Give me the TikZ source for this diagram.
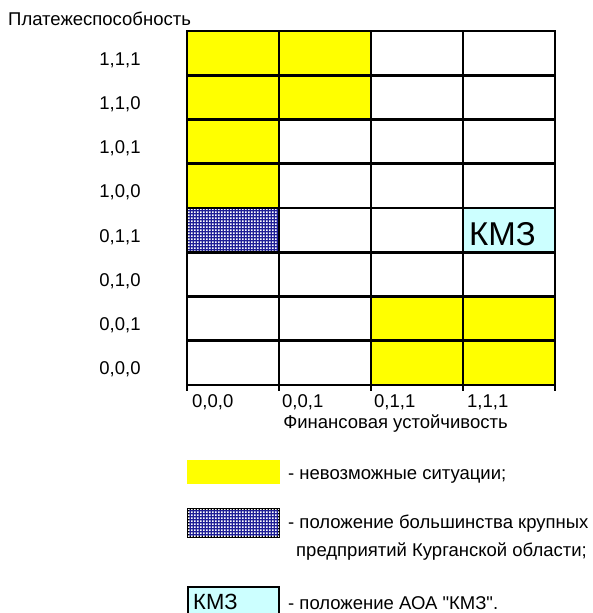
\documentclass[tikz,border=0pt]{standalone}
\usepackage{fontspec}
\newfontfamily\arialfont{Liberation Sans}
\usetikzlibrary{patterns}

\definecolor{impossible}{RGB}{255,255,0}
\definecolor{kmzcyan}{RGB}{204,255,255}
\definecolor{navydots}{RGB}{30,30,150}

\pgfdeclarepatternformonly{checkdots}{\pgfqpoint{0pt}{0pt}}{\pgfqpoint{3.2pt}{3.2pt}}{\pgfqpoint{3.2pt}{3.2pt}}
{
	\pgfpathrectangle{\pgfqpoint{0pt}{0pt}}{\pgfqpoint{2pt}{2pt}}
	\pgfusepath{fill}
}

\tikzset{
	lbl/.style={font=\arialfont\fontsize{18.5}{22}\selectfont, inner sep=0pt},
	kmz/.style={font=\arialfont\fontsize{#1}{#1}\selectfont, inner sep=0pt, anchor=base west},
	gridline/.style={line width=2.6pt, line cap=rect},
	dotted cell/.style={fill=navydots, postaction={pattern=checkdots, pattern color=white}}
}

\begin{document}
\begin{tikzpicture}[x=1pt, y=-1pt]

	\useasboundingbox (0,0) rectangle (593,613);
	\clip (0,0) rectangle (593,613);

	\node[lbl, anchor=base west] (plat) at (8,25) {Платежеспособность};

	% one cell of the grid is 92 x 44.25
	\begin{scope}[xshift=187pt, yshift=-31pt, x=92pt, y=-44.25pt]
		\foreach \c / \r in {
		0/0, 1/0,
		0/1, 1/1,
		0/2,
		0/3,
		2/6, 3/6,
		2/7, 3/7}
		{
			\fill[impossible] (\c,\r) rectangle ++(1,1);
		};
		\fill[dotted cell] (0,4) rectangle (1,5);
		\fill[kmzcyan] (3,4) rectangle (4,5);

		\foreach \r in {0,...,8}
		{
			\draw[gridline] (0,\r) -- (4,\r);
		};
		\foreach \c in {0,...,4}
		{
			\draw[gridline] (\c,0) -- (\c,8.1);
		};
	\end{scope}

	\node[kmz=33] (kmzcell) at (469,245) {КМЗ};

	\node[lbl, anchor=base] (r1) at (120,65) {1,1,1};
	\node[lbl, anchor=base] (r2) at (120,109.25) {1,1,0};
	\node[lbl, anchor=base] (r3) at (120,153.5) {1,0,1};
	\node[lbl, anchor=base] (r4) at (120,197.75) {1,0,0};
	\node[lbl, anchor=base] (r5) at (120,242) {0,1,1};
	\node[lbl, anchor=base] (r6) at (120,286.25) {0,1,0};
	\node[lbl, anchor=base] (r7) at (120,330.5) {0,0,1};
	\node[lbl, anchor=base] (r8) at (120,374.75) {0,0,0};

	\node[lbl, anchor=base west] (c1) at (192,407) {0,0,0};
	\node[lbl, anchor=base west] (c2) at (282,407) {0,0,1};
	\node[lbl, anchor=base west] (c3) at (374,407) {0,1,1};
	\node[lbl, anchor=base west] (c4) at (467,407) {1,1,1};

	\node[lbl, anchor=base] (fin) at (395.5,428) {Финансовая устойчивость};

	% legend
	\fill[impossible] (187,460) rectangle (280,484);
	\node[lbl, anchor=base west] (leg1) at (288,479) {- невозможные ситуации;};

	\draw[dotted cell, line width=2pt] (188,509) rectangle (279,537);
	\node[lbl, anchor=base west] (leg2) at (288,528) {- положение большинства крупных};
	\node[lbl, anchor=base west] (leg2b) at (296,556) {предприятий Курганской области;};

	\draw[fill=kmzcyan, line width=2.4pt] (188,587) rectangle (279,625);
	\node[kmz=22] (kmzleg) at (193,609) {КМЗ};
	\node[lbl, anchor=base west] (leg3) at (288,609) {- положение АОА "КМЗ".};

\end{tikzpicture}
\end{document}
